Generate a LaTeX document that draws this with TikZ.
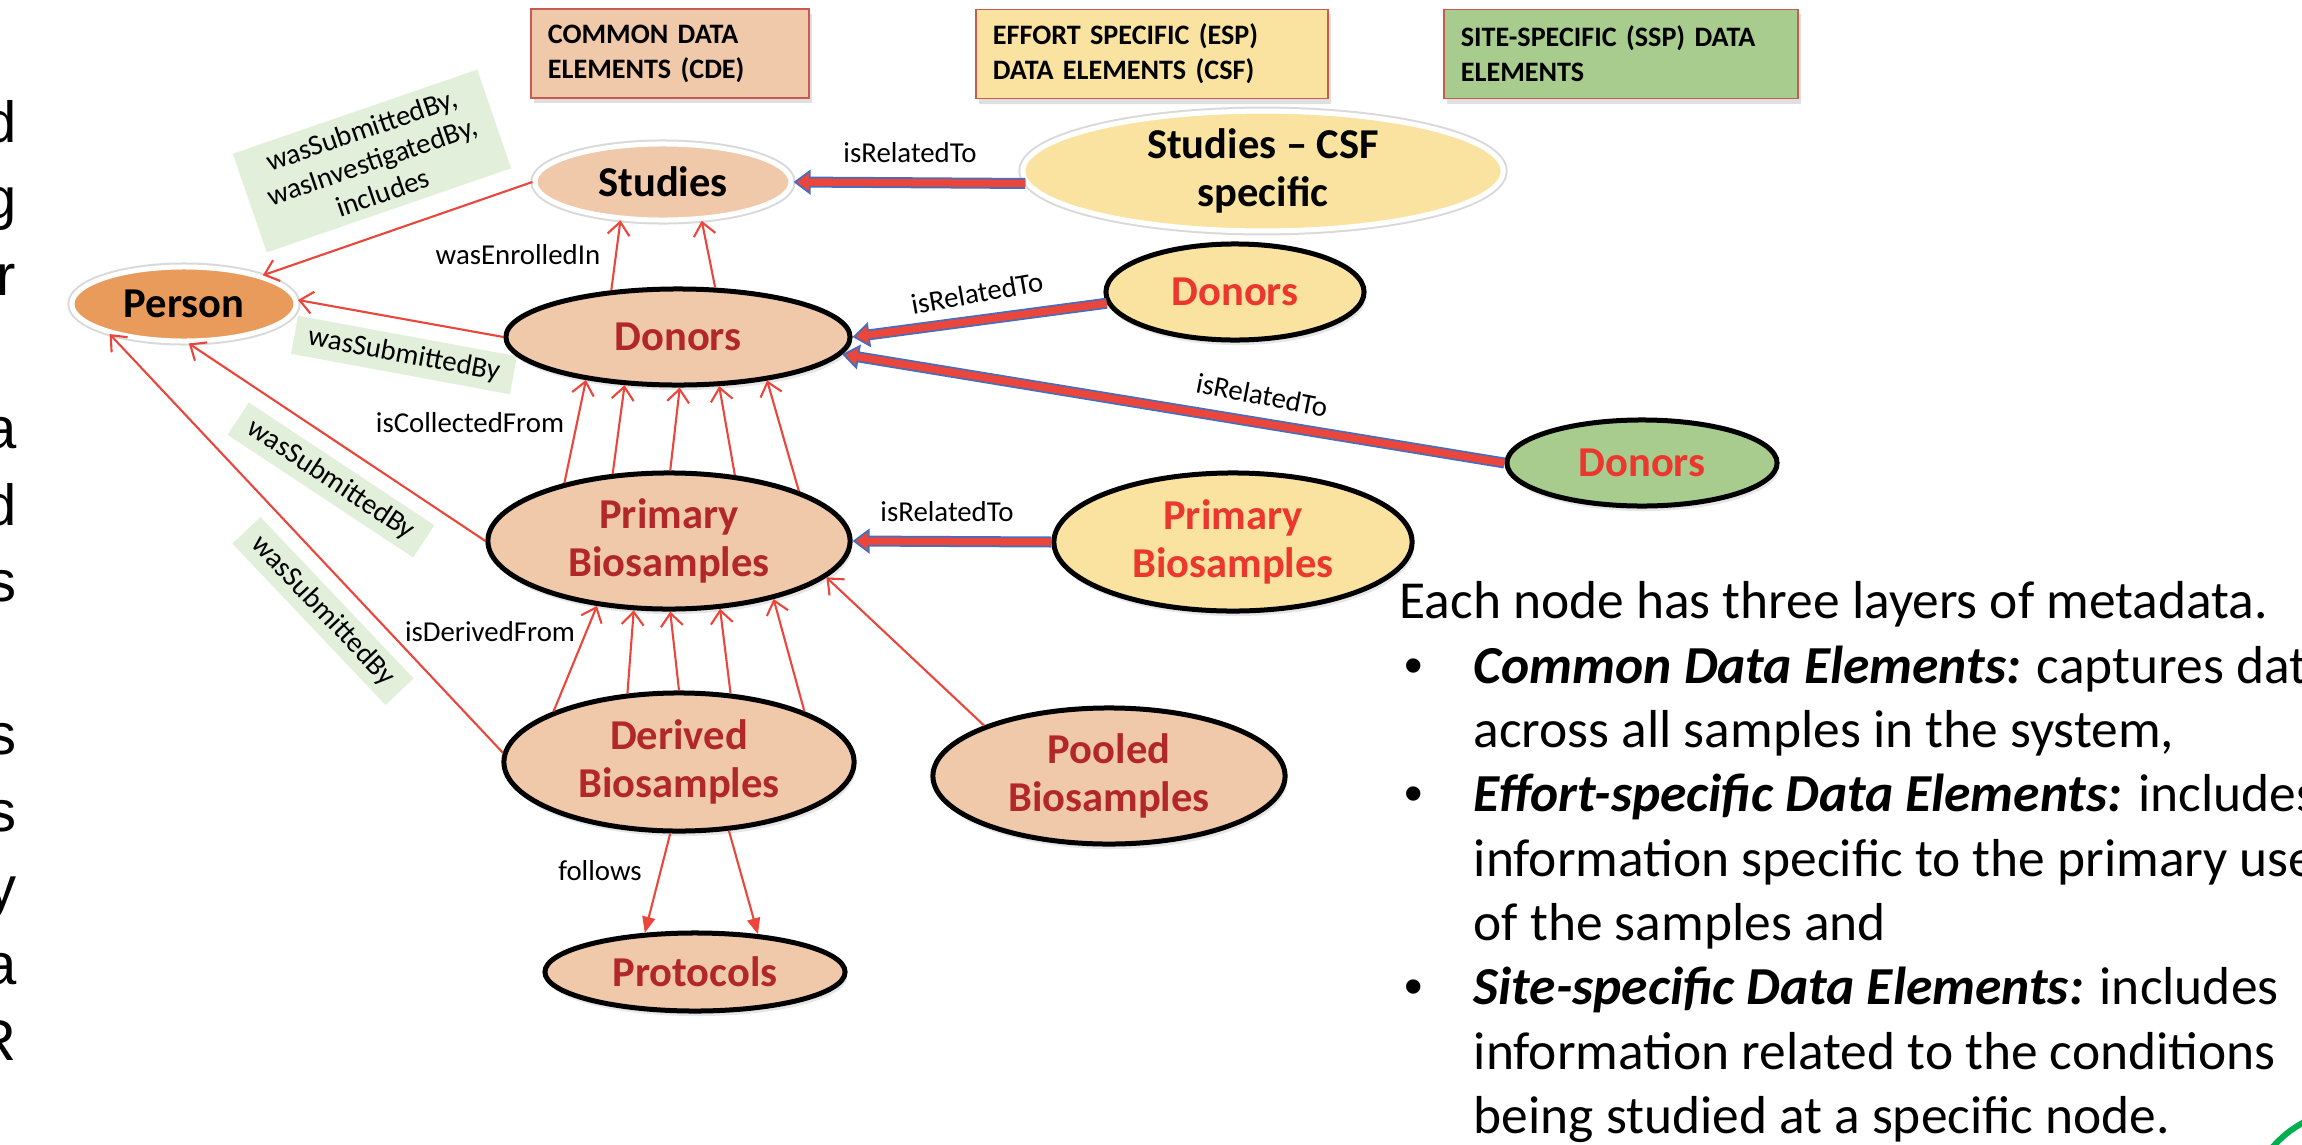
\documentclass[tikz,border=0pt]{standalone}
\usepackage{fontspec}
\setmainfont{Carlito}
\newfontfamily\slidefont{Liberation Sans}
\usetikzlibrary{arrows.meta, positioning, shapes.geometric, shadows}

\definecolor{cdefill}{RGB}{240,200,170}
\definecolor{personfill}{RGB}{232,155,90}
\definecolor{espfill}{RGB}{250,227,160}
\definecolor{sspfill}{RGB}{168,203,142}
\definecolor{boxline}{RGB}{200,90,80}
\definecolor{cdetext}{RGB}{178,40,40}
\definecolor{esptext}{RGB}{235,55,45}
\definecolor{relred}{RGB}{235,70,60}
\definecolor{relblue}{RGB}{70,110,190}
\definecolor{labelgreen}{RGB}{226,239,218}
\definecolor{arcgreen}{RGB}{0,176,80}

\newcommand{\bubblefont}{\bfseries\fontsize{12.1}{13.7}\selectfont}
\newcommand{\legendfont}{\bfseries\fontsize{8}{10}\selectfont}
\newcommand{\relfont}{\fontsize{8.2}{9.4}\selectfont}
\newcommand{\notefont}{\fontsize{15.2}{18.3}\selectfont}
\newcommand{\notebullet}{\makebox[0.74cm][l]{\hspace{0.05cm}{\slidefont\fontsize{15}{15}\selectfont\textbullet}}}
\newcommand{\noteindent}{\hspace*{0.74cm}}

\tikzset{
  legendbox/.style={rectangle, draw=boxline, line width=0.5pt, minimum height=0.89cm,
    inner xsep=0.17cm, inner ysep=0pt, align=left, font=\legendfont,
    drop shadow={opacity=0.25, shadow xshift=0.03cm, shadow yshift=-0.05cm}},
  bubble/.style={ellipse, inner sep=0pt, align=center, font=\bubblefont},
  pale/.style={bubble, draw=white, line width=0.05cm, preaction={draw=black!15, line width=0.09cm}},
  blackring/.style={bubble, draw=black, line width=0.05cm,
    drop shadow={opacity=0.2, shadow xshift=0.02cm, shadow yshift=-0.05cm}},
  cdenode/.style={blackring, fill=cdefill, text=cdetext},
  espnode/.style={blackring, fill=espfill, text=esptext},
  sspnode/.style={blackring, fill=sspfill, text=esptext},
  rel/.style={draw=relred, line width=0.6pt, -{Straight Barb[length=0.13cm, width=0.22cm]}},
  follow/.style={draw=relred, line width=0.6pt, -{Triangle[length=0.16cm, width=0.13cm]}},
  bigarrow/.style={draw=relblue, line width=0.11cm,
    -{Triangle[length=0.17cm, width=0.25cm, fill=relred, line width=0.5pt]},
    postaction={draw=relred, line width=0.075cm, -, shorten >=0.15cm}},
  rellabel/.style={font=\relfont, inner sep=0pt},
  greenlabel/.style={fill=labelgreen, font=\relfont, inner xsep=0.14cm, inner ysep=0.07cm, align=center},
  cutletter/.style={anchor=base east, inner sep=0pt, font=\slidefont\fontsize{16.5}{19}\selectfont},
}

\begin{document}
\begin{tikzpicture}[x=0.01cm, y=-0.01cm]
  \useasboundingbox (0,0) rectangle (2302,1145);

    % cut-off line ends of the text column on the left
  \foreach \ch/\yy [count=\i] in {d/142, g/218, r/295, a/448, d/525, s/601, s/754, s/831, y/907, a/984, R/1060}
    \node[cutletter] (cut\i) at (17,\yy) {\ch};

    % legend boxes
  \node[legendbox, fill=cdefill, text width=2.44cm] (cdebox) at (670,53.5) {COMMON DATA\\ELEMENTS (CDE)};
  \node[legendbox, fill=espfill, text width=3.18cm] (espbox) at (1152,54) {EFFORT SPECIFIC (ESP)\\DATA ELEMENTS (CSF)};
  \node[legendbox, fill=sspfill, text width=3.20cm] (sspbox) at (1621,54) {SITE-SPECIFIC (SSP) DATA\\ELEMENTS};

    % green relation labels (under the lines)
  \node[greenlabel, rotate=19, inner xsep=0.19cm, inner ysep=0.09cm] (labstudies) at (372,161) {wasSubmittedBy,\\wasInvestigatedBy,\\includes};
  \node[greenlabel, rotate=-10.5] (labdonors) at (404,355) {wasSubmittedBy};
  \node[greenlabel, rotate=-33.5] (labprimary) at (331,480) {wasSubmittedBy};
  \node[greenlabel, rotate=-46.5] (labderived) at (323,611) {wasSubmittedBy};

    % entities
  \node[pale, fill=personfill, minimum width=2.24cm, minimum height=0.74cm] (person) at (184,304) {Person};
  \node[pale, fill=cdefill, minimum width=2.56cm, minimum height=0.76cm] (studies) at (663,182) {Studies};
  \node[pale, fill=espfill, minimum width=4.8cm, minimum height=0.98cm] (csf) at (1263,171) {Studies – CSF\\specific};
  \node[cdenode, minimum width=3.44cm, minimum height=0.96cm] (donors) at (678,337) {Donors};
  \node[espnode, minimum width=2.58cm, minimum height=0.96cm] (espdonors) at (1235,292) {Donors};
  \node[sspnode, minimum width=2.70cm, minimum height=0.86cm] (sspdonors) at (1642,463) {Donors};
  \node[cdenode, minimum width=3.62cm, minimum height=1.36cm] (primary) at (669,541) {Primary\\Biosamples};
  \node[espnode, minimum width=3.58cm, minimum height=1.38cm] (espprimary) at (1233,542) {Primary\\Biosamples};
  \node[cdenode, minimum width=3.50cm, minimum height=1.38cm] (derived) at (679,762) {Derived\\Biosamples};
  \node[cdenode, minimum width=3.52cm, minimum height=1.36cm] (pooled) at (1109,776) {Pooled\\Biosamples};
  \node[cdenode, minimum width=3.00cm, minimum height=0.78cm] (protocols) at (695,972) {Protocols};

    % wasSubmittedBy / wasInvestigatedBy -> Person
  \draw[rel] (studies.west) -- (person.20);
  \draw[rel] (donors.west) -- (person.2);
  \draw[rel] (primary.west) -- (person.-83);
  \draw[rel] (derived.177) -- (person.-158);

    % wasEnrolledIn
  \draw[rel] (donors.145) -- (studies.-138);
  \draw[rel] (donors.53) -- (studies.-45);
    % isCollectedFrom
  \foreach \s/\t in {151/-155, 130/-138, 89/-88, 45/-50, 21/-26}
    \draw[rel] (primary.\s) -- (donors.\t);
    % isDerivedFrom
  \foreach \s/\t in {158/-138, 127/-117, 90/-89, 53/-53, 22/-29}
    \draw[rel] (derived.\s) -- (primary.\t);
  \draw[rel] (pooled.158) -- (primary.-13);
    % follows
  \draw[follow] (derived.-97) -- (protocols.142);
  \draw[follow] (derived.-54) -- (protocols.31);

    % isRelatedTo (thick arrows)
  \draw[bigarrow] (csf.183) -- (studies.east);
  \draw[bigarrow] (espdonors.185) -- (donors.east);
  \draw[bigarrow] (sspdonors.west) -- (donors.-6);
  \draw[bigarrow] (espprimary.west) -- (primary.east);

    % relation names
  \node[rellabel] (enrolled) at (518,255) {wasEnrolledIn};
  \node[rellabel] (collected) at (470,423) {isCollectedFrom};
  \node[rellabel] (derivedfrom) at (490,632) {isDerivedFrom};
  \node[rellabel] (follows) at (600,871) {follows};
  \node[rellabel] (relstudies) at (910,153) {isRelatedTo};
  \node[rellabel, rotate=10] (reldonors) at (977,293) {isRelatedTo};
  \node[rellabel, rotate=-11] (relssp) at (1262,395) {isRelatedTo};
  \node[rellabel] (relprimary) at (947,512) {isRelatedTo};

    % explanation on the right
  \node[anchor=north west, inner sep=0pt, align=left, font=\notefont] (notes) at (1399,581)
    {Each node has three layers of metadata.\\
     \notebullet\textbf{\textit{Common Data Elements:}} captures data\\
     \noteindent across all samples in the system,\\
     \notebullet\textbf{\textit{Effort-specific Data Elements:}} includes\\
     \noteindent information specific to the primary use\\
     \noteindent of the samples and\\
     \notebullet\textbf{\textit{Site-specific Data Elements:}} includes\\
     \noteindent information related to the conditions\\
     \noteindent being studied at a specific node.};

    % green stroke in the corner
  \draw[arcgreen, line width=0.06cm] (2270,1150) to[bend left=10] (2306,1121);
\end{tikzpicture}
\end{document}
